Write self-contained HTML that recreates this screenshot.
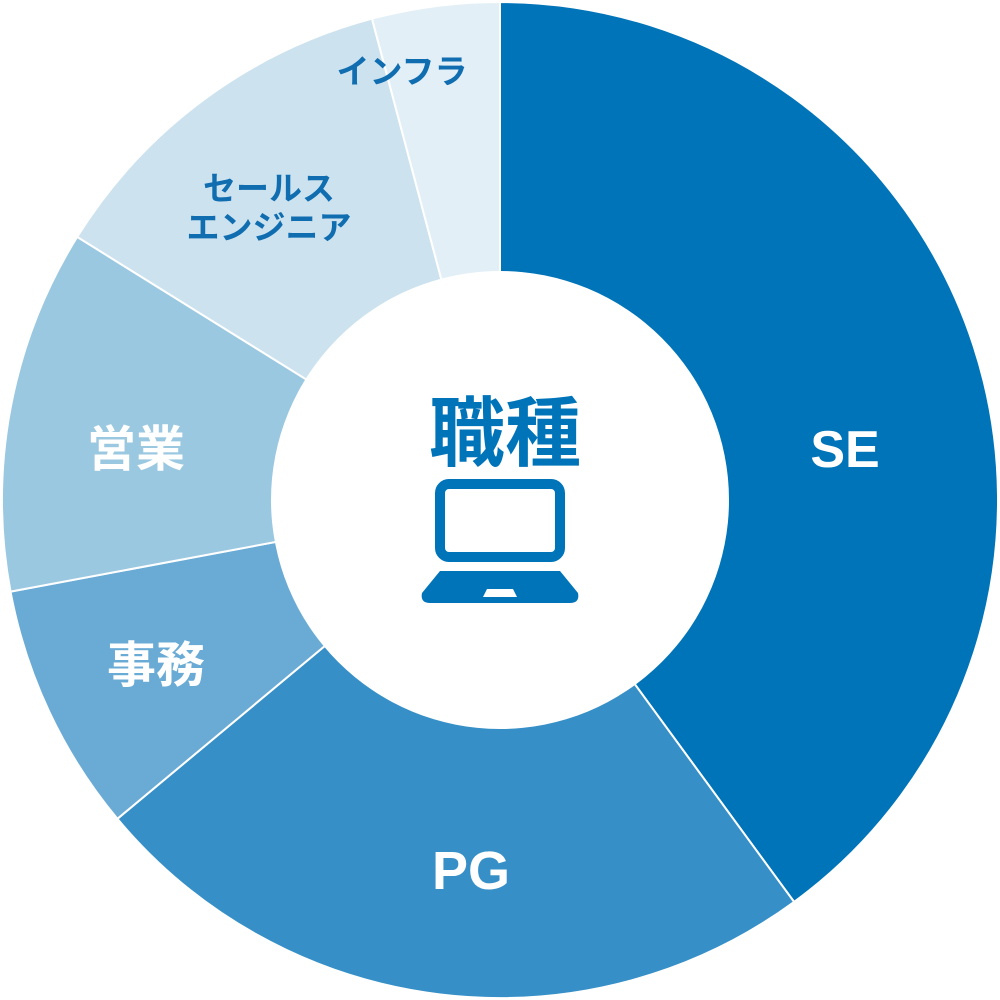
<!DOCTYPE html>
<html><head><meta charset="utf-8"><style>html,body{margin:0;padding:0;background:#fff}svg{display:block}</style></head>
<body>
<svg width="1000" height="1000" viewBox="0 0 1000 1000" xmlns="http://www.w3.org/2000/svg">
<g stroke="#fff" stroke-width="2" stroke-linejoin="round">
<path d="M500,500 L500,2 A498,498 0 0 1 794.1,901.9 Z" fill="#0074b9"/>
<path d="M500,500 L794.1,901.9 A498,498 0 0 1 117.4,818.8 Z" fill="#3690c7"/>
<path d="M500,500 L117.4,818.8 A498,498 0 0 1 10.5,591.6 Z" fill="#6aabd5"/>
<path d="M500,500 L10.5,591.6 A498,498 0 0 1 77.2,236.9 Z" fill="#9bc8e1"/>
<path d="M500,500 L77.2,236.9 A498,498 0 0 1 372,18.7 Z" fill="#cce2ef"/>
<path d="M500,500 L372,18.7 A498,498 0 0 1 500,2 Z" fill="#e3eff7"/>
</g>
<circle cx="500" cy="500" r="229" fill="#fff"/>
<g font-family="Liberation Sans, 'Noto Sans CJK JP', sans-serif" font-weight="bold" text-anchor="middle">
<text x="845" y="467" font-size="52" fill="#fff">SE</text>
<text x="471" y="889" font-size="54" fill="#fff">PG</text>
<text x="156" y="682" font-size="49" fill="#fff">事務</text>
<text x="136" y="466" font-size="49" fill="#fff">営業</text>
<text x="269" y="200" font-size="33" fill="#0f6db0">セールス</text>
<text x="269" y="239" font-size="33" fill="#0f6db0">エンジニア</text>
<text x="402" y="83" font-size="33" fill="#0f6db0">インフラ</text>
<text x="505" y="460" font-size="76" fill="#0074b9">職種</text>
</g>
<rect x="440" y="484" width="120" height="73" rx="9" fill="none" stroke="#0074b9" stroke-width="10"/>
<path d="M440,571 L560,571 L578,593 Q580,603 570,603 L430,603 Q420,603 422,593 Z" fill="#0074b9"/>
<path d="M487,589 L513,589 L517,597 L483,597 Z" fill="#fff"/>
</svg>
</body></html>
